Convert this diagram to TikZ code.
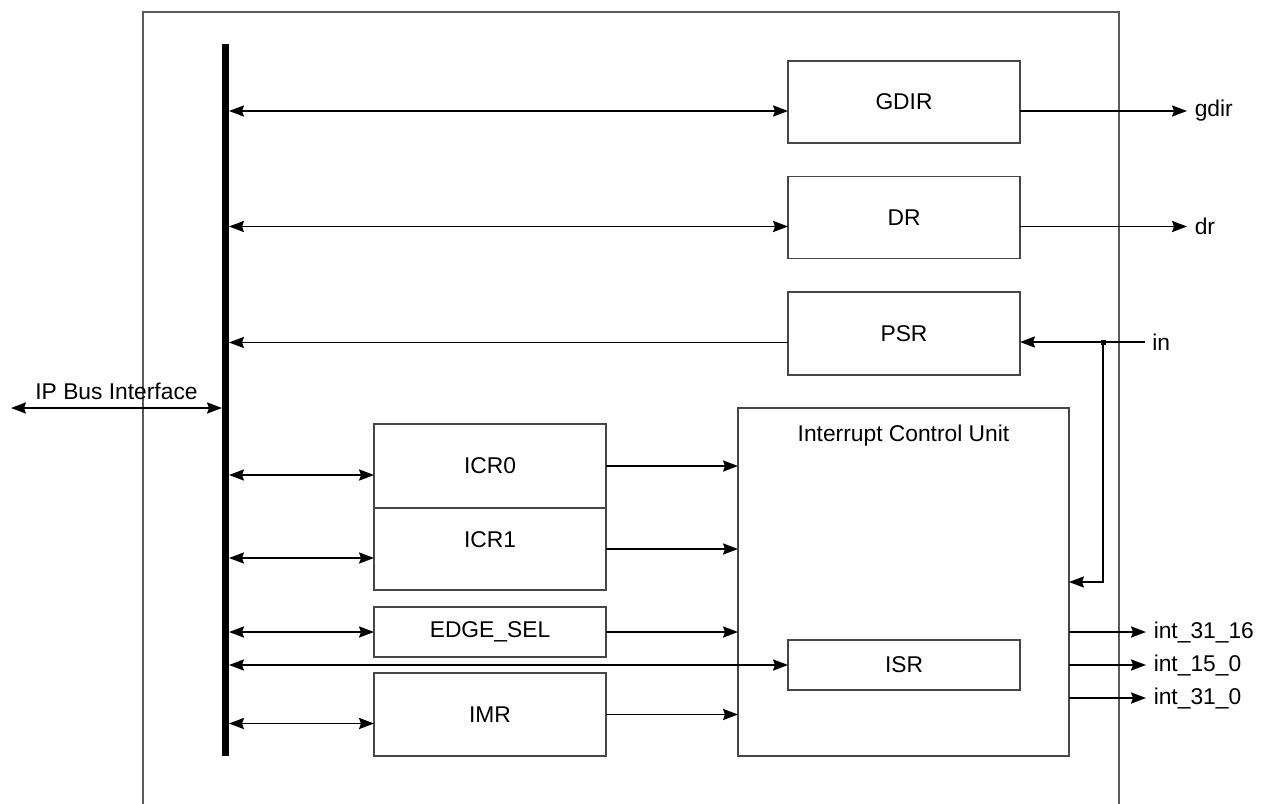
\documentclass[tikz,border=0pt]{standalone}
\usepackage{fontspec}
\setmainfont{Liberation Sans}
\usetikzlibrary{positioning,arrows.meta,calc}
\definecolor{frameline}{RGB}{90,90,90}
\definecolor{regline}{RGB}{70,70,70}
\tikzset{
  reg/.style={draw=regline,line width=0.75pt,minimum width=116pt,outer sep=0pt,inner sep=0pt,align=center},
  ar/.style={-{Stealth[length=7.5pt,width=5.6pt,inset=1pt]},line width=0.75pt},
  biar/.style={{Stealth[length=7.5pt,width=5.6pt,inset=1pt]}-{Stealth[length=7.5pt,width=5.6pt,inset=1pt]},line width=0.75pt},
  sig/.style={right,inner sep=3.5pt},
  bus/.style={line width=3.5pt},
}

\begin{document}
\begin{tikzpicture}[x=0.5pt,y=-0.5pt,font=\fontsize{11.4}{13.5}\selectfont]
  \useasboundingbox (0,0) rectangle (1266,804);
  \draw[frameline,line width=0.75pt] (143,804) -- (143,12) -- (1119,12) -- (1119,804);
  % bus
  \coordinate (bustop) at (225.5,44);
  \coordinate (busbot) at (225.5,756);
  \coordinate (busr) at (229,0);
  \coordinate (busl) at (222,0);
  \draw[bus] (bustop) -- (busbot);
  % registers
  \node[reg,minimum height=41pt] (gdir) at (904,102) {GDIR};
  \node[reg,minimum height=41pt] (dr) at (904,217.5) {DR};
  \node[reg,minimum height=41.5pt] (psr) at (904,333.5) {PSR};
  \node[reg,minimum width=165.5pt,minimum height=174pt] (icu) at (903.5,582) {};
  \node[below=5pt of icu.north] (icuname) {Interrupt Control Unit};
  \node[reg,minimum height=25pt] (isr) at (904,665) {ISR};
  \node[reg,minimum height=42pt] (icr0) at (490,466) {ICR0};
  \node[reg,minimum height=41pt] (icr1) at (490,549) {};
  \node (icr1name) at ([yshift=4.5pt]icr1.center) {ICR1};
  \node[reg,minimum height=25pt] (edge) at (490,632) {EDGE\_SEL};
  \node[reg,minimum height=41.5pt] (imr) at (490,714.5) {IMR};
  % bus side
  \foreach \r in {gdir,dr,icr0,icr1,imr}
    \draw[biar] ([yshift=-4.5pt]\r.west) coordinate (\r-in) -- (busr |- \r-in);
  \draw[biar] (busr |- edge.west) -- (edge.west);
  \draw[biar] (busr |- isr.west) -- (isr.west);
  \draw[ar] ([yshift=-4.5pt]psr.west) coordinate (psr-out) -- (busr |- psr-out);
  \coordinate (ipl) at (11,408);
  \draw[biar] (ipl) -- (busl |- ipl) node[midway,above=0.5pt] {IP Bus Interface};
  % into the interrupt unit
  \foreach \r in {icr0,icr1,edge,imr}
    \draw[ar] (\r.east) -- (icu.west |- \r.east);
  % outputs
  \coordinate (outx) at (1187,0);
  \foreach \r in {gdir,dr}
    \draw[ar] ([yshift=-4.5pt]\r.east) coordinate (\r-out) -- (outx |- \r-out) node[sig] {\r};
  \coordinate (icuout) at (1146,0);
  \foreach \d/\t in {-25/int\_31\_16,-41.5/int\_15\_0,-58/int\_31\_0}
    \draw[ar] ([yshift=\d pt]icu.east) coordinate (o) -- (icuout |- o) node[sig] {\t};
  % input pins
  \coordinate (inx) at (1145,342);
  \coordinate (tap) at (1103,342);
  \node[sig] (inname) at (inx) {in};
  \draw[line width=0.75pt] (inx) -- (tap);
  \draw[ar] (tap) -- (psr.east |- tap);
  \draw[ar] (tap) |- (icu.east);
  \fill ([shift={(-2.5,-2.5)}]tap) rectangle ([shift={(2.5,2.5)}]tap);
\end{tikzpicture}
\end{document}
